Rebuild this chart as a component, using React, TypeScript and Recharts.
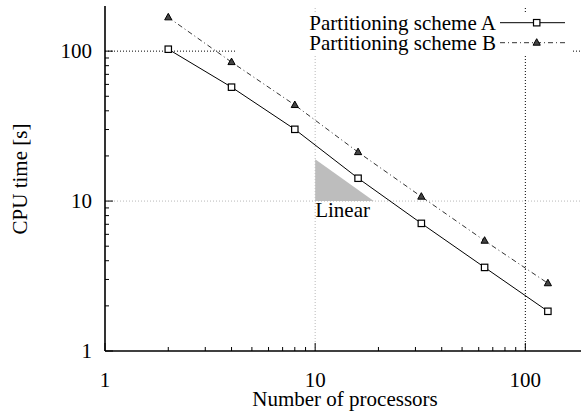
import React from 'react';
import { ComposedChart, Line, Area, XAxis, YAxis, ReferenceLine, ReferenceDot } from 'recharts';

// Number of processors used in each run
const processors = [2, 4, 8, 16, 32, 64, 128];
// CPU time [s] for each partitioning scheme
const schemeA = [103, 57.5, 30.1, 14.2, 7.1, 3.61, 1.84];
const schemeB = [168, 84.5, 43.7, 21.2, 10.7, 5.44, 2.83];

// Linear-scaling reference triangle (corner at 10 processors / 10 s)
const linearP = [10, 19];
const linearT = [19, 10];
const linearBase = 10;

// Axis ticks (log decades with minor ticks)
const xTicks = [1, 2, 3, 4, 5, 6, 7, 8, 9, 10, 20, 30, 40, 50, 60, 70, 80, 90, 100];
const yTicks = [1, 2, 3, 4, 5, 6, 7, 8, 9, 10, 20, 30, 40, 50, 60, 70, 80, 90, 100];
const majorTicks = [1, 10, 100];
const xDomain = [1, 184];
const yDomain = [1, 200];

const seriesNames = ['Partitioning scheme A', 'Partitioning scheme B'];

const rows = processors.map((p, i) => ({ p, a: schemeA[i], b: schemeB[i] }));
const linearRows = linearP.map((p, i) => ({ p, t: linearT[i] }));

const FONT = "'Liberation Serif', 'Times New Roman', serif";
const FS = 21;
const MAJOR = 8;
const MINOR = 4;

const BottomTick = (props: any) => {
  const { x, y, payload } = props;
  const major = majorTicks.includes(payload.value);
  return (
    <g>
      <line x1={x} x2={x} y1={y} y2={y - (major ? MAJOR : MINOR)} stroke="#000" strokeWidth={1} />
      {major && (
        <text x={x} y={y + 36} textAnchor="middle" fontFamily={FONT} fontSize={FS} fill="#000">
          {payload.value}
        </text>
      )}
    </g>
  );
};

const TopTick = (props: any) => {
  const { x, y, payload } = props;
  const major = majorTicks.includes(payload.value);
  return <line x1={x} x2={x} y1={y} y2={y + (major ? MAJOR : MINOR)} stroke="#000" strokeWidth={1} />;
};

const LeftTick = (props: any) => {
  const { x, y, payload } = props;
  const major = majorTicks.includes(payload.value);
  return (
    <g>
      <line x1={x} x2={x + (major ? MAJOR : MINOR)} y1={y} y2={y} stroke="#000" strokeWidth={1} />
      {major && (
        <text x={x - 13} y={y + 7} textAnchor="end" fontFamily={FONT} fontSize={FS} fill="#000">
          {payload.value}
        </text>
      )}
    </g>
  );
};

const SquareDot = (props: any) => {
  const { cx, cy, index } = props;
  return <rect key={`sq-${index}`} x={cx - 3.2} y={cy - 3.2} width={6.4} height={6.4} fill="#fff" stroke="#000" strokeWidth={1.2} />;
};

const TriangleDot = (props: any) => {
  const { cx, cy, index } = props;
  return (
    <polygon
      key={`tr-${index}`}
      points={`${cx},${cy - 4} ${cx + 3.6},${cy + 2.5} ${cx - 3.6},${cy + 2.5}`}
      fill="#444"
      stroke="#000"
      strokeWidth={1}
    />
  );
};

// Key box with an opaque background that hides the grid behind it
const LegendBox = () => (
  <svg width={336} height={54} style={{ position: 'absolute', left: 236, top: 2, overflow: 'visible' }}>
    <rect x={0} y={12} width={336} height={40} fill="#fff" />
    <text x={260} y={27.5} textAnchor="end" fontFamily={FONT} fontSize={FS} fill="#000">
      {seriesNames[0]}
    </text>
    <line x1={264} x2={329} y1={20.7} y2={20.7} stroke="#000" strokeWidth={1} />
    <rect x={297.5} y={17.5} width={6.4} height={6.4} fill="#fff" stroke="#000" strokeWidth={1.2} />
    <text x={260} y={47.5} textAnchor="end" fontFamily={FONT} fontSize={FS} fill="#000">
      {seriesNames[1]}
    </text>
    <line x1={264} x2={329} y1={40.7} y2={40.7} stroke="#333" strokeWidth={1} strokeDasharray="5 3 1 3" />
    <polygon points="300.7,36.7 304.3,43.2 297.1,43.2" fill="#444" stroke="#000" strokeWidth={1} />
  </svg>
);

export default function App() {
  return (
    <div style={{ position: 'absolute', left: 0, top: 0, width: 581, height: 419, background: '#fff', overflow: 'hidden' }}>
      <ComposedChart width={581} height={419} data={rows} margin={{ top: 6, right: 0, bottom: 0, left: 0 }}>
        <XAxis
          xAxisId={0}
          dataKey="p"
          type="number"
          scale="log"
          domain={xDomain}
          allowDataOverflow
          ticks={xTicks}
          interval={0}
          tickSize={0}
          tickMargin={0}
          tickLine={false}
          tick={<BottomTick />}
          height={68}
          axisLine={{ stroke: '#000', strokeWidth: 1.6 }}
          label={{
            content: () => (
              <text x={345} y={406} textAnchor="middle" fontFamily={FONT} fontSize={FS} fill="#000">
                Number of processors
              </text>
            ),
          }}
        />
        <XAxis
          xAxisId="top"
          orientation="top"
          dataKey="p"
          type="number"
          scale="log"
          domain={xDomain}
          allowDataOverflow
          ticks={xTicks}
          interval={0}
          tickSize={0}
          tickMargin={0}
          tickLine={false}
          tick={<TopTick />}
          height={0}
          axisLine={{ stroke: '#000', strokeWidth: 1.6 }}
        />
        <YAxis
          type="number"
          scale="log"
          domain={yDomain}
          allowDataOverflow
          ticks={yTicks}
          interval={0}
          tickSize={0}
          tickMargin={0}
          tickLine={false}
          tick={<LeftTick />}
          width={105}
          axisLine={{ stroke: '#000', strokeWidth: 1.6 }}
          label={{
            content: () => (
              <text
                x={27}
                y={179}
                textAnchor="middle"
                transform="rotate(-90, 27, 179)"
                fontFamily={FONT}
                fontSize={FS}
                fill="#000"
              >
                CPU time [s]
              </text>
            ),
          }}
        />
        <ReferenceLine x={10} stroke="#b8b8b8" strokeDasharray="1 2" strokeWidth={1} />
        <ReferenceLine y={10} stroke="#b8b8b8" strokeDasharray="1 2" strokeWidth={1} />
        <ReferenceLine x={100} stroke="#000" strokeDasharray="1 2" strokeWidth={1} />
        <ReferenceLine y={100} stroke="#000" strokeDasharray="1 2" strokeWidth={1} />
        <Area
          data={linearRows}
          dataKey="t"
          type="linear"
          baseValue={linearBase}
          fill="#bdbdbd"
          fillOpacity={1}
          stroke="none"
          isAnimationActive={false}
        />
        <ReferenceDot
          x={linearP[0]}
          y={linearBase}
          r={0}
          fill="none"
          stroke="none"
          label={{
            content: (p: any) => (
              <text x={p.viewBox.x} y={p.viewBox.y + 16} fontFamily={FONT} fontSize={FS} fill="#000">
                Linear
              </text>
            ),
          }}
        />
        <Line
          dataKey="b"
          type="linear"
          stroke="#333"
          strokeWidth={1}
          strokeDasharray="5 3 1 3"
          dot={TriangleDot}
          activeDot={false}
          isAnimationActive={false}
        />
        <Line
          dataKey="a"
          type="linear"
          stroke="#000"
          strokeWidth={1}
          dot={SquareDot}
          activeDot={false}
          isAnimationActive={false}
        />
      </ComposedChart>
      <LegendBox />
    </div>
  );
}
